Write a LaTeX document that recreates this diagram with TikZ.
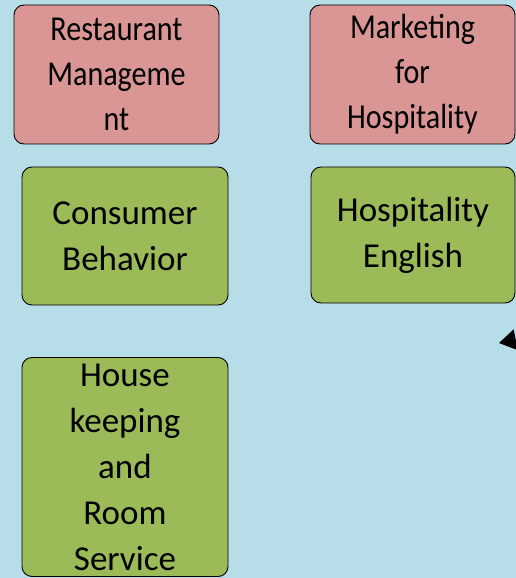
\documentclass[tikz,border=0pt]{standalone}
\usepackage{fontspec}
\setmainfont{Carlito}
\newfontfamily\narrowfont{Carlito}[FakeStretch=0.86]
\usepackage{xcolor}
\usepackage{tikz}
\usetikzlibrary{calc, arrows.meta}

\definecolor{bgblue}{HTML}{B7DEE8}
\definecolor{coursepink}{HTML}{D99694}
\definecolor{coursegreen}{HTML}{9BBB59}

\tikzset{
	course/.style = {draw = black, line width = 0.9pt, rounded corners = 10pt, align = center, inner sep = 0pt},
	pinkcourse/.style = {course, fill = coursepink, font = \narrowfont\fontsize{35}{45}\selectfont},
	greencourse/.style = {course, fill = coursegreen, font = \fontsize{35}{46}\selectfont},
}

\begin{document}
\begin{tikzpicture}[x=1pt, y=-1pt]
			\def\W{516};
			\def\H{578};

			\path [use as bounding box, fill = bgblue] (0,0) rectangle (\W,\H);
			\clip (0,0) rectangle (\W,\H);

			\begin{scope}
				\node [pinkcourse, minimum width = 205pt, minimum height = 139pt] (restaurant) at (116.5,74.5) {Restaurant\\Manageme\\nt};
				\node [pinkcourse, minimum width = 205pt, minimum height = 139pt] (marketing) at (412.5,74.5) {Marketing\\for\\Hospitality};
			\end{scope}

			\begin{scope}
				\node [greencourse, minimum width = 206pt, minimum height = 138pt] (consumer) at (125,236) {Consumer\\Behavior};
				\node [greencourse, minimum width = 204pt, minimum height = 136pt] (english) at (413,235) {Hospitality\\English};
				\node [greencourse, minimum width = 206pt, minimum height = 219pt] (housekeeping) at (125,467) {House\\keeping\\and\\Room\\Service};
			\end{scope}

			\coordinate (arrowtip) at (499,343);
			\coordinate (arrowtail) at (540,335);

			\draw [line width = 1pt, -{Triangle[length = 17pt, width = 21pt]}] (arrowtail) -- (arrowtip);
		\end{tikzpicture}
\end{document}
